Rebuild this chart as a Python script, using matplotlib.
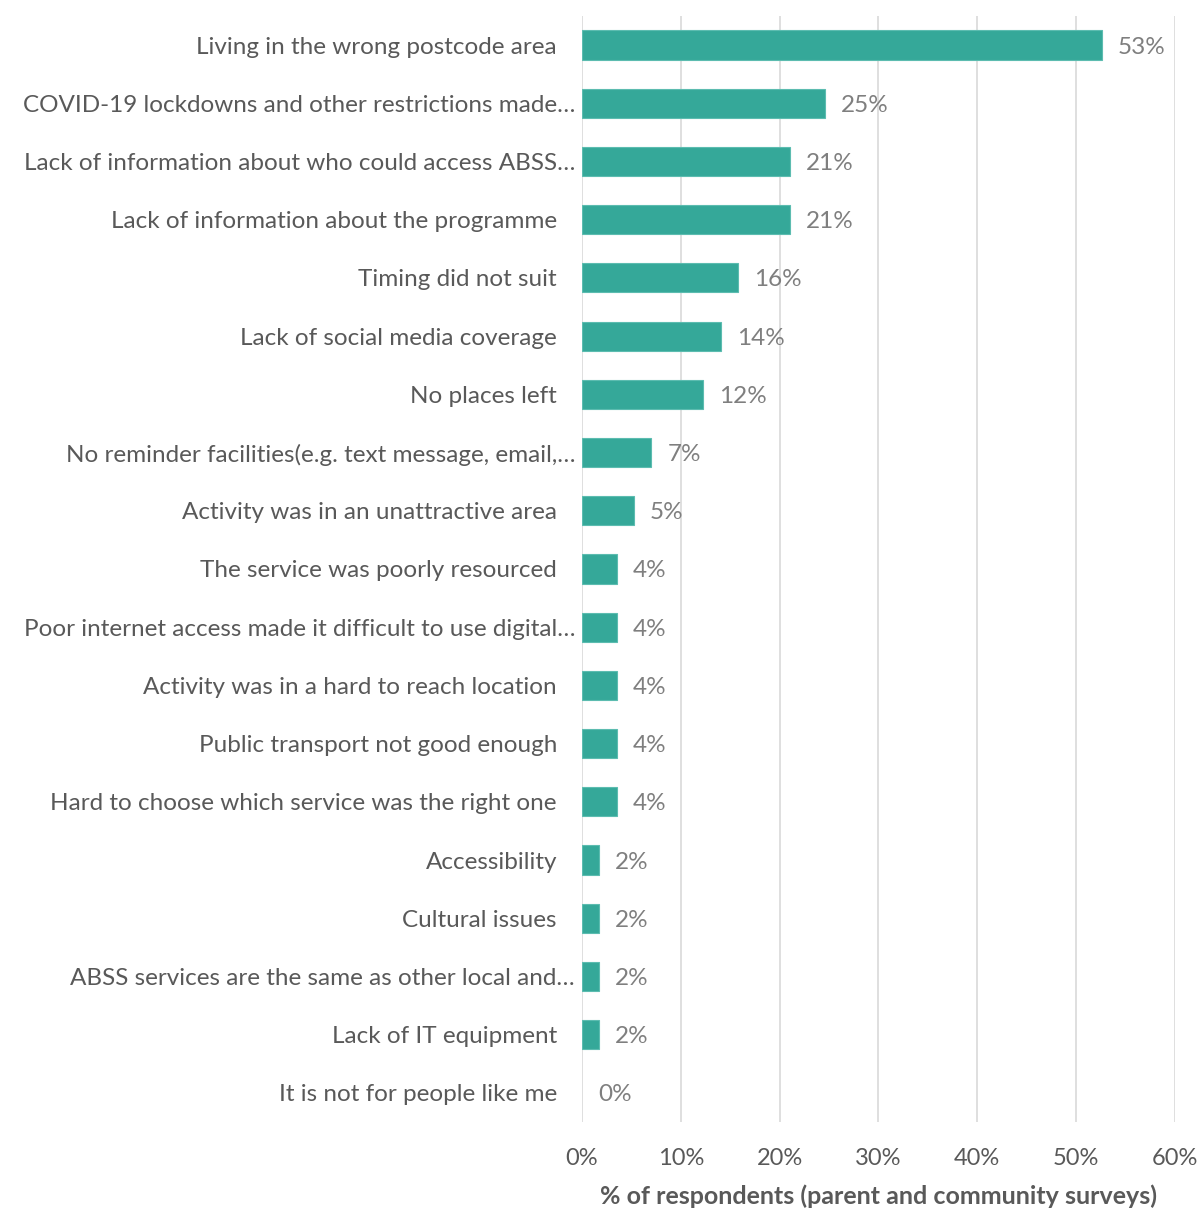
import numpy as np
import matplotlib.pyplot as plt
from matplotlib.ticker import PercentFormatter
from matplotlib.transforms import ScaledTranslation

# Barriers to using ABSS services, parent and community surveys (n = 57)
n_respondents = 57

barriers = [
    "Living in the wrong postcode area",
    "COVID-19 lockdowns and other restrictions made\u2026",
    "Lack of information about who could access ABSS\u2026",
    "Lack of information about the programme",
    "Timing did not suit",
    "Lack of social media coverage",
    "No places left",
    "No reminder facilities(e.g. text message, email,\u2026",
    "Activity was in an unattractive area",
    "The service was poorly resourced",
    "Poor internet access made it difficult to use digital\u2026",
    "Activity was in a hard to reach location",
    "Public transport not good enough",
    "Hard to choose which service was the right one",
    "Accessibility",
    "Cultural issues",
    "ABSS services are the same as other local and\u2026",
    "Lack of IT equipment",
    "It is not for people like me",
]
counts = [30, 14, 12, 12, 9, 8, 7, 4, 3, 2, 2, 2, 2, 2, 1, 1, 1, 1, 0]

pct = np.array(counts) / n_respondents * 100

bar_color = "#35a899"
text_color = "#595959"
value_color = "#7f7f7f"
grid_color = "#d9d9d9"

plt.rcParams["font.family"] = ["Lato", "DejaVu Sans"]

fig = plt.figure(figsize=(12, 12.08), dpi=100)
ax = fig.add_axes([0.485, 0.0712, 0.494, 0.9156])

y = np.arange(len(barriers))
edges = ["#5cbcb0" if v > 0 else "none" for v in pct]
ax.barh(y, pct, height=0.5, color=bar_color, edgecolor=edges, linewidth=0.8, zorder=3)

for yi, v in zip(y, pct):
    ax.annotate(f"{v:.0f}%", (v, yi), xytext=(16, 0), textcoords="offset pixels",
                va="center_baseline", ha="left", fontsize=17.5, color=value_color)

ax.set_ylim(len(barriers) - 0.5, -0.5)
ax.set_xlim(0, 60)
ax.set_xticks(np.arange(0, 61, 10))
ax.xaxis.set_major_formatter(PercentFormatter(decimals=0))
ax.set_yticks(y)
ax.set_yticklabels(barriers)

ax.grid(axis="x", color=grid_color, linewidth=1.2, zorder=0)
for s in ax.spines.values():
    s.set_visible(False)
ax.tick_params(axis="both", length=0, colors=text_color)
ax.tick_params(axis="y", pad=18, labelsize=17.5)
ax.tick_params(axis="x", pad=19, labelsize=17)

# truncated category names sit closer to the axis
shift = ScaledTranslation(18 / 100, 0, fig.dpi_scale_trans)
for lab in ax.get_yticklabels():
    if lab.get_text().endswith("\u2026"):
        lab.set_transform(lab.get_transform() + shift)

ax.set_xlabel("% of respondents (parent and community surveys)", fontsize=18,
              fontweight="bold", color=text_color, labelpad=11)

fig.savefig("out.png", dpi=100)
